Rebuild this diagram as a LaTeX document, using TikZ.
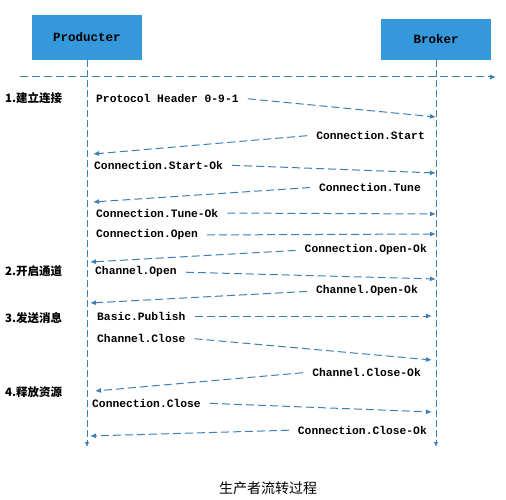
\documentclass[tikz,border=0pt]{standalone}
\usepackage{fontspec}
\setmonofont{Liberation Mono}
\newfontfamily\cjk{Noto Sans CJK SC}
\usetikzlibrary{arrows.meta}
\definecolor{boxblue}{RGB}{52,152,219}
\definecolor{flowblue}{RGB}{62,126,182}

\begin{document}
\begin{tikzpicture}[x=1pt,y=-1pt,
    actor/.style={fill=boxblue,minimum width=110pt,minimum height=45pt,font=\ttfamily\bfseries\fontsize{12.5}{14}\selectfont},
    msg/.style={font=\ttfamily\bfseries\fontsize{11.3}{13}\selectfont,inner sep=1pt},
    stage/.style={font=\cjk\bfseries\fontsize{11.5}{13}\selectfont,inner sep=0pt,anchor=west},
    life/.style={draw=flowblue,line width=0.9pt,dash pattern=on 7pt off 3pt,-{Latex[length=5pt,width=4.5pt]}},
    flow/.style={draw=flowblue,line width=1pt,dash pattern=on 8pt off 4pt,-{Latex[length=6pt,width=5pt]},shorten <=8pt}]
        \useasboundingbox (0,0) rectangle (506,500);

        % actors and lifelines
        \node[actor] (prod) at (87,37.5) {Producter};
        \node[actor,minimum height=41pt] (brok) at (436,39.5) {Broker};
        \coordinate (prodend) at (87,447);
        \coordinate (brokend) at (436,447);
        \draw[life] (prod.south) -- (prodend);
        \draw[life] (brok.south) -- (brokend);

        \coordinate (tleft) at (20,77);
        \coordinate (tright) at (496,77);
        \draw[flow,shorten <=0pt] (tleft) -- (tright);

        % stages
        \node[stage] (st1) at (5,98) {1.建立连接};
        \node[stage] (st2) at (5,271) {2.开启通道};
        \node[stage] (st3) at (5,318) {3.发送消息};
        \node[stage] (st4) at (5,392) {4.释放资源};

        % producter -> broker
        \node[msg,anchor=west] (hdr) at (95,98) {Protocol Header 0-9-1};
        \coordinate (hdrb) at (436,117);
        \draw[flow] (hdr.east) -- (hdrb);

        \node[msg,anchor=west] (cstok) at (93,165) {Connection.Start-Ok};
        \coordinate (cstokb) at (436,173);
        \draw[flow] (cstok.east) -- (cstokb);

        \node[msg,anchor=west] (ctnok) at (95,213) {Connection.Tune-Ok};
        \coordinate (ctnokb) at (436,214);
        \draw[flow] (ctnok.east) -- (ctnokb);

        \node[msg,anchor=west] (copn) at (95,235) {Connection.Open};
        \coordinate (copnb) at (436,234);
        \draw[flow] (copn.east) -- (copnb);

        \node[msg,anchor=west] (hopn) at (94,272) {Channel.Open};
        \coordinate (hopnb) at (436,279);
        \draw[flow] (hopn.east) -- (hopnb);

        \node[msg,anchor=west] (pub) at (96,316) {Basic.Publish};
        \coordinate (pubb) at (432,316);
        \draw[flow] (pub.east) -- (pubb);

        \node[msg,anchor=west] (hcls) at (96,338) {Channel.Close};
        \coordinate (hclsb) at (432,360);
        \draw[flow] (hcls.east) -- (hclsb);

        \node[msg,anchor=west] (ccls) at (91,403) {Connection.Close};
        \coordinate (cclsb) at (432,412);
        \draw[flow] (ccls.east) -- (cclsb);

        % broker -> producter
        \node[msg,anchor=east] (cst) at (426,135) {Connection.Start};
        \coordinate (cstp) at (93,154);
        \draw[flow] (cst.west) -- (cstp);

        \node[msg,anchor=east] (ctn) at (422,187) {Connection.Tune};
        \coordinate (ctnp) at (93,202);
        \draw[flow] (ctn.west) -- (ctnp);

        \node[msg,anchor=east] (copnok) at (428,250) {Connection.Open-Ok};
        \coordinate (copnokp) at (90,262);
        \draw[flow] (copnok.west) -- (copnokp);

        \node[msg,anchor=east] (hopnok) at (419,291) {Channel.Open-Ok};
        \coordinate (hopnokp) at (90,303);
        \draw[flow] (hopnok.west) -- (hopnokp);

        \node[msg,anchor=east] (hclsok) at (422,372) {Channel.Close-Ok};
        \coordinate (hclsokp) at (95,391);
        \draw[flow] (hclsok.west) -- (hclsokp);

        \node[msg,anchor=east] (cclsok) at (428,430) {Connection.Close-Ok};
        \coordinate (cclsokp) at (90,436);
        \draw[flow] (cclsok.west) -- (cclsokp);

        \node[font=\cjk\fontsize{14}{16}\selectfont] (caption) at (268,488) {生产者流转过程};
      \end{tikzpicture}
\end{document}
